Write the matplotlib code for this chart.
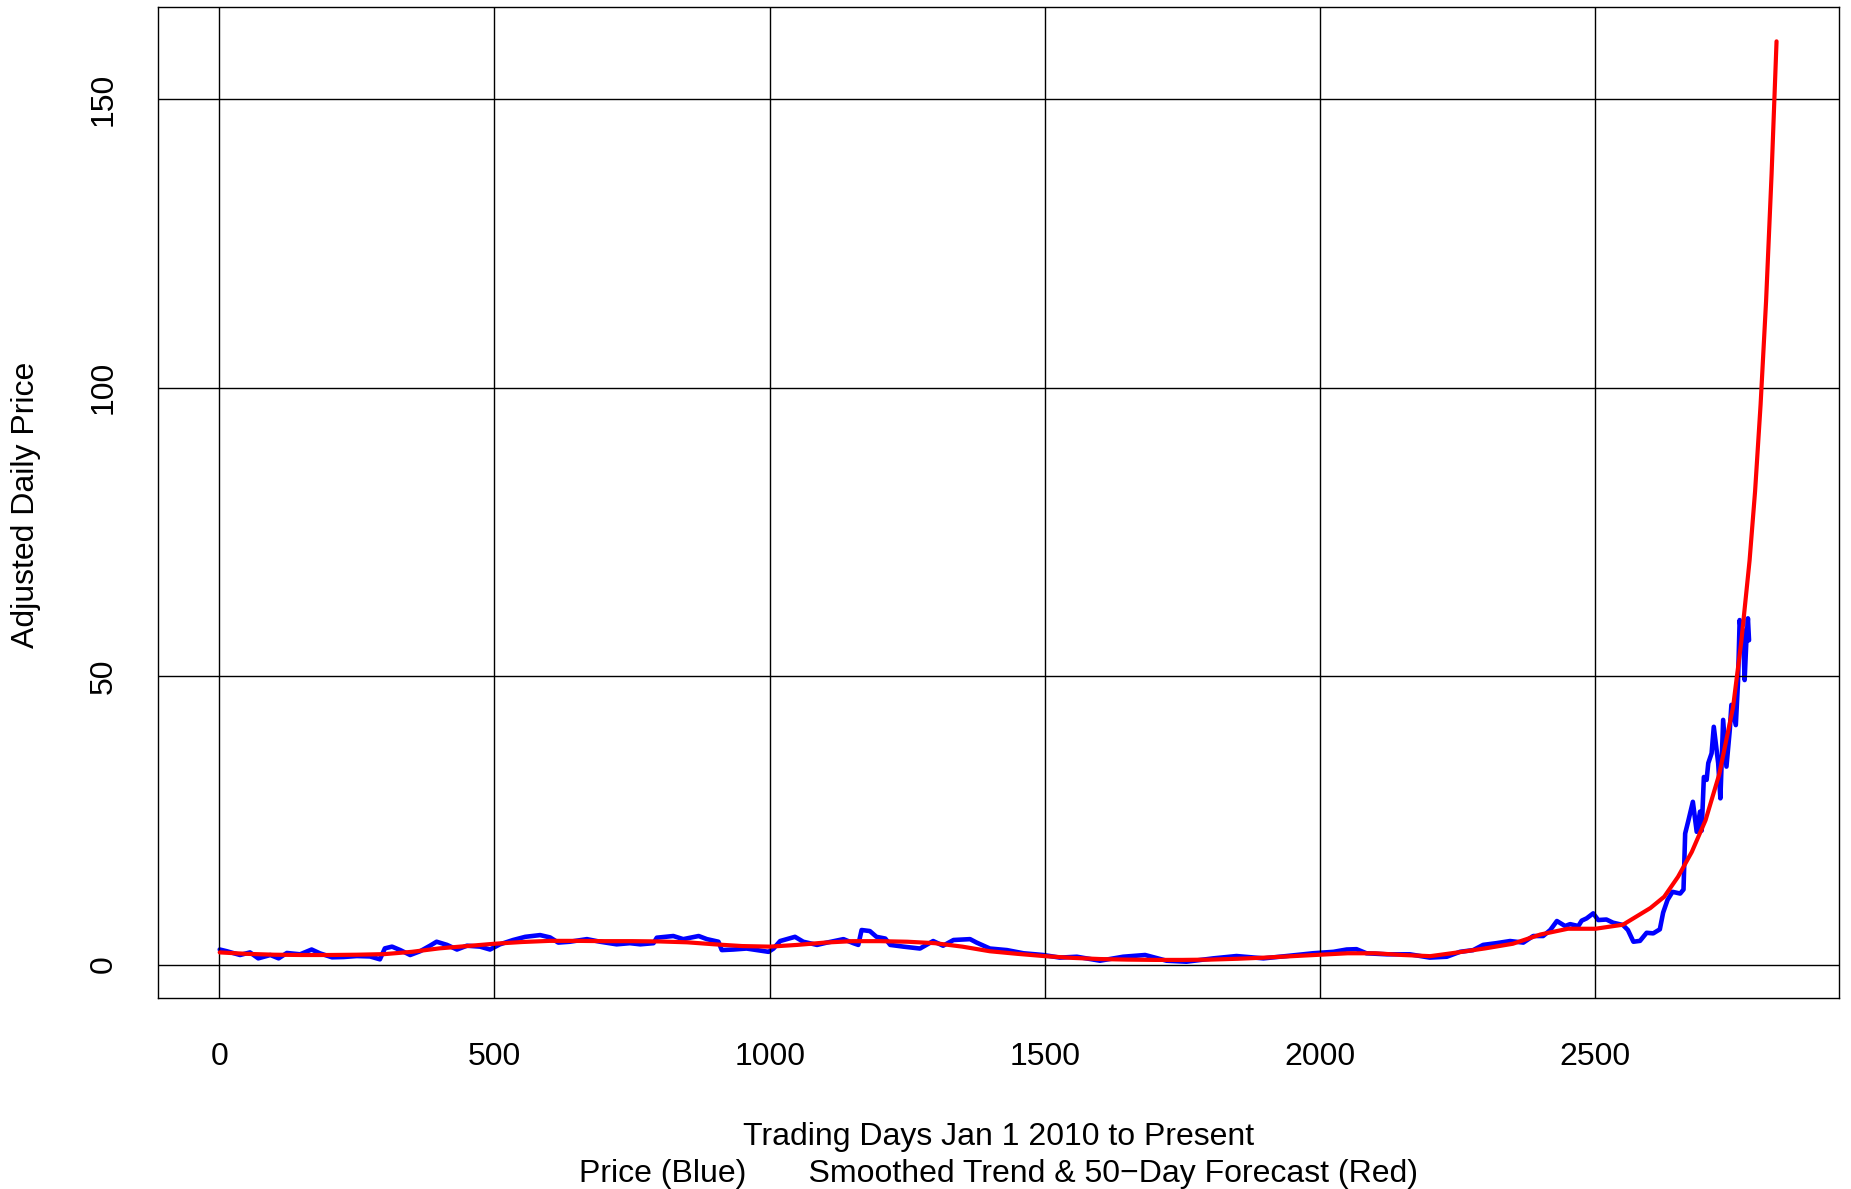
import matplotlib
matplotlib.use("Agg")
import matplotlib.pyplot as plt

plt.rcParams['font.family'] = ['Liberation Sans', 'DejaVu Sans']

# Blue: adjusted daily price
price_days = [1, 14, 38, 56, 71, 93, 108, 123, 147, 168, 183, 205, 226, 250, 274, 292, 301, 314, 329, 347,
              365, 383, 395, 414, 432, 450, 474, 492, 510, 534, 556, 583, 601, 616, 637, 668, 692, 722, 746, 765,
              789, 795, 825, 843, 871, 886, 907, 913, 934, 958, 977, 998, 1007, 1019, 1046, 1061, 1086, 1104, 1134, 1152,
              1161, 1167, 1182, 1194, 1210, 1219, 1243, 1273, 1297, 1315, 1334, 1364, 1376, 1400, 1431, 1461, 1497, 1527, 1558, 1582,
              1600, 1642, 1682, 1721, 1757, 1806, 1848, 1897, 1939, 1987, 2024, 2048, 2066, 2084, 2121, 2163, 2199, 2230, 2254, 2278,
              2296, 2320, 2345, 2369, 2387, 2405, 2418, 2430, 2445, 2454, 2469, 2475, 2484, 2496, 2505, 2520, 2532, 2550, 2559, 2569,
              2581, 2593, 2605, 2617, 2623, 2631, 2640, 2654, 2660, 2663, 2669, 2677, 2684, 2690, 2693, 2697, 2702, 2705, 2711, 2715,
              2723, 2727, 2732, 2738, 2744, 2747, 2755, 2759, 2762, 2765, 2768, 2771, 2774, 2777, 2779]
price_vals = [2.6, 2.3, 1.65, 2.1, 1.07, 1.65, 1.07, 2.0, 1.77, 2.6, 1.94, 1.25, 1.3, 1.47, 1.4, 0.9, 2.8, 3.1, 2.5, 1.65,
              2.3, 3.26, 3.95, 3.4, 2.6, 3.26, 3.1, 2.6, 3.5, 4.25, 4.8, 5.1, 4.7, 3.8, 3.95, 4.4, 3.95, 3.5, 3.7, 3.5,
              3.7, 4.65, 4.94, 4.4, 4.94, 4.4, 3.95, 2.5, 2.6, 2.77, 2.5, 2.2, 2.77, 4.07, 4.8, 3.95, 3.4, 3.8, 4.4, 3.7,
              3.4, 5.98, 5.8, 4.8, 4.5, 3.4, 3.1, 2.77, 4.07, 3.26, 4.25, 4.4, 3.8, 2.77, 2.5, 1.95, 1.65, 1.2, 1.35, 0.95,
              0.66, 1.35, 1.65, 0.66, 0.49, 1.07, 1.47, 1.07, 1.47, 1.95, 2.2, 2.6, 2.66, 1.95, 1.77, 1.77, 1.2, 1.35, 2.2, 2.5,
              3.4, 3.7, 4.07, 3.8, 4.94, 4.94, 5.98, 7.54, 6.67, 7.0, 6.67, 7.6, 8.0, 8.87, 7.71, 7.8, 7.25, 6.85, 5.98, 3.95,
              4.1, 5.5, 5.4, 6.1, 9.0, 11.2, 12.6, 12.3, 13.0, 22.7, 25.0, 28.2, 23.0, 26.5, 23.2, 32.5, 32.0, 34.9, 36.6, 41.2,
              34.9, 28.8, 42.4, 34.3, 40.6, 45.0, 41.5, 49.0, 59.7, 57.4, 58.0, 49.3, 55.7, 60.0, 56.2]

# Red: smoothed trend and 50-day forecast
trend_days = [1, 50, 100, 150, 200, 250, 300, 350, 400, 450, 500, 550, 600, 650, 700, 750, 800, 850, 900, 950,
              1000, 1050, 1100, 1150, 1200, 1250, 1300, 1350, 1400, 1450, 1500, 1550, 1600, 1650, 1700, 1750, 1800, 1850, 1900, 1950,
              2000, 2050, 2100, 2150, 2200, 2250, 2300, 2350, 2400, 2450, 2500, 2550, 2600, 2625, 2650, 2675, 2700, 2725, 2750, 2765,
              2780, 2790, 2800, 2810, 2820, 2829]
trend_vals = [2.1, 1.85, 1.7, 1.65, 1.65, 1.7, 1.8, 2.2, 2.8, 3.2, 3.6, 3.9, 4.1, 4.1, 4.05, 4.05, 4.0, 3.85, 3.5, 3.2,
              3.1, 3.4, 3.8, 4.05, 4.05, 3.95, 3.7, 3.1, 2.3, 1.85, 1.45, 1.15, 0.95, 0.85, 0.8, 0.8, 0.85, 1.0, 1.2, 1.45,
              1.7, 1.95, 1.95, 1.65, 1.45, 2.1, 2.8, 3.6, 5.2, 6.2, 6.2, 6.9, 9.8, 11.75, 15.2, 19.5, 25.0, 33.0, 44.6, 56.0,
              70.0, 82.0, 97.0, 115.0, 137.0, 160.0]

x_ticks = [0, 500, 1000, 1500, 2000, 2500]
y_ticks = [0, 50, 100, 150]

W, H = 1851, 1189
FS = 23
fig = plt.figure(figsize=(W / 100, H / 100), dpi=100)
L, R, T, B = 157.5, 1839.3, 7.3, 997.7
ax = fig.add_axes([L / W, 1 - B / H, (R - L) / W, (B - T) / H])

ax.plot(price_days, price_vals, color='#0000FF', lw=3.3, solid_capstyle='round', solid_joinstyle='round', zorder=2)
for xv in x_ticks:
    ax.axvline(xv, color='black', lw=1.0, zorder=3)
for yv in y_ticks:
    ax.axhline(yv, color='black', lw=1.0, zorder=3)
ax.plot(trend_days, trend_vals, color='#FF0000', lw=3.0, solid_capstyle='round', solid_joinstyle='round', zorder=4)

ax.set_xlim(-112, 2943)
ax.set_ylim(-5.75, 165.9)
ax.set_xticks(x_ticks)
ax.set_xticklabels([str(v) for v in x_ticks], fontsize=FS)
ax.set_yticks(y_ticks)
ax.set_yticklabels([str(v) for v in y_ticks], fontsize=FS, rotation=90, va='center')
ax.tick_params(axis='both', length=0)
ax.tick_params(axis='x', pad=32)
ax.tick_params(axis='y', pad=28)
for s in ax.spines.values():
    s.set_linewidth(1.0)
    s.set_color('black')

cx = (L + R) / 2 / W
fig.text(cx, 1 - 1145 / H, "Trading Days Jan 1 2010 to Present", fontsize=FS,
         ha='center', va='baseline')
fig.text(cx, 1 - 1181.7 / H, "Price (Blue)       Smoothed Trend & 50\u2212Day Forecast (Red)", fontsize=FS,
         ha='center', va='baseline')
fig.text(34 / W, 1 - 505 / H, "Adjusted Daily Price", fontsize=FS, rotation=90,
         rotation_mode='anchor', ha='center', va='baseline')

fig.savefig("out.png", dpi=100)
